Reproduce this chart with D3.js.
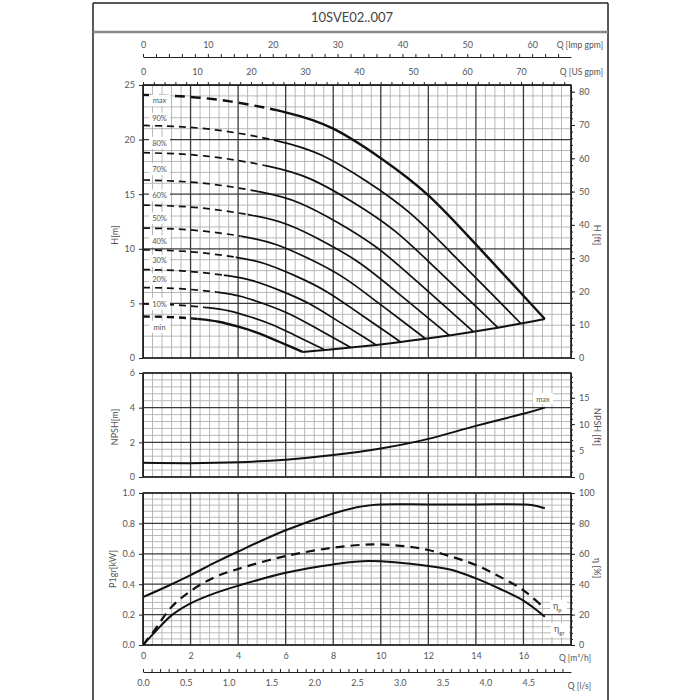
<!DOCTYPE html>
<html>
<head>
<meta charset="utf-8">
<script src="https://cdn.jsdelivr.net/npm/d3@7"></script>
<style>
body { margin: 0; background: #fff; }
text { font-family: Lato, "Open Sans", sans-serif; fill: #555; }
</style>
</head>
<body>
<svg id="chart" width="700" height="700"></svg>
<script>
// ---- data ----
var title = "10SVE02..007";
var speedNames = ["max", "90%", "80%", "70%", "60%", "50%", "40%", "30%", "20%", "10%", "min"];
// Q [m3/h] and H [m] for each speed curve
var speedQ = [
  [0, 3, 6, 8, 10, 12, 14, 16, 16.9],
  [0, 2.82, 5.64, 7.52, 9.4, 11.28, 13.16, 15.04, 15.89],
  [0, 2.65, 5.3, 7.06, 8.83, 10.6, 12.36, 14.13, 14.92],
  [0, 2.47, 4.93, 6.58, 8.22, 9.86, 11.51, 13.15, 13.89],
  [0, 2.29, 4.57, 6.1, 7.62, 9.14, 10.67, 12.19, 12.88],
  [0, 2.11, 4.22, 5.62, 7.03, 8.44, 9.84, 11.25, 11.88],
  [0, 1.92, 3.85, 5.13, 6.41, 7.69, 8.97, 10.26, 10.83],
  [0, 1.74, 3.48, 4.64, 5.8, 6.96, 8.12, 9.28, 9.8],
  [0, 1.55, 3.1, 4.14, 5.17, 6.2, 7.24, 8.27, 8.74],
  [0, 1.36, 2.72, 3.62, 4.53, 5.44, 6.34, 7.25, 7.66],
  [0, 1.19, 2.38, 3.18, 3.97, 4.76, 5.56, 6.35, 6.71]
];
var speedH = [
  [24.1, 23.7, 22.5, 21.0, 18.3, 14.9, 10.4, 5.7, 3.57],
  [21.3, 20.95, 19.89, 18.56, 16.18, 13.17, 9.19, 5.04, 3.16],
  [18.8, 18.49, 17.55, 16.38, 14.27, 11.62, 8.11, 4.45, 2.78],
  [16.3, 16.02, 15.21, 14.2, 12.37, 10.07, 7.03, 3.85, 2.41],
  [14.0, 13.77, 13.07, 12.2, 10.63, 8.66, 6.04, 3.31, 2.07],
  [11.9, 11.71, 11.12, 10.37, 9.04, 7.36, 5.14, 2.82, 1.76],
  [9.9, 9.74, 9.25, 8.63, 7.52, 6.12, 4.27, 2.34, 1.47],
  [8.1, 7.96, 7.56, 7.06, 6.15, 5.01, 3.49, 1.92, 1.2],
  [6.45, 6.35, 6.03, 5.63, 4.9, 3.99, 2.79, 1.53, 0.96],
  [4.95, 4.86, 4.61, 4.31, 3.75, 3.05, 2.13, 1.17, 0.73],
  [3.8, 3.74, 3.56, 3.32, 2.89, 2.35, 1.64, 0.9, 0.56]
];
// flow where each curve turns from dashed to solid
var dashEndQ = [5.6, 5.5, 5.1, 4.8, 4.4, 4.1, 3.9, 3.4, 3.1, 2.6, 2.3];

var npshQ = [0, 2, 4, 6, 8, 10, 12, 14, 16, 16.9];
var npshM = [0.82, 0.8, 0.85, 1.0, 1.27, 1.65, 2.2, 2.95, 3.65, 4.0];

var powerQ = [0, 1, 2, 3, 4, 6, 8, 9, 9.5, 10, 12, 14, 16, 16.4, 16.9];
var powerKW = [0.315, 0.385, 0.46, 0.54, 0.615, 0.755, 0.865, 0.906, 0.918, 0.925, 0.925, 0.925, 0.925, 0.92, 0.9];

var etaPQ = [0, 0.44, 1.2, 2, 3, 4, 6, 8, 9.7, 11, 12, 13, 14, 15, 16, 16.9];
var etaP = [0, 8.8, 25, 35.5, 44.5, 50, 58.5, 64, 66.2, 65, 62.5, 58, 52.6, 45, 36, 24];
var etaGrQ = [0, 0.5, 1.2, 2, 3, 4, 6, 8, 9.5, 12, 13, 14, 15, 16, 16.9];
var etaGr = [0, 8.5, 19.5, 27.4, 34, 39, 47.5, 53, 55.2, 52, 49.3, 43.8, 37, 29.2, 18.6];

var headTicks = [0, 5, 10, 15, 20, 25];
var headFtTicks = [0, 10, 20, 30, 40, 50, 60, 70, 80];
var npshTicks = [0, 2, 4, 6];
var npshFtTicks = [0, 5, 10, 15];
var powerTicks = [0, 0.2, 0.4, 0.6, 0.8, 1.0];
var etaTicks = [0, 20, 40, 60, 80, 100];

// ---- layout ----
var svg = d3.select("#chart");
var left = 143, right = 571;
var x = d3.scaleLinear().domain([0, 18]).range([left, right]);

var yH = d3.scaleLinear().domain([0, 25]).range([358, 85]);
var yHft = d3.scaleLinear().domain([0, 25 / 0.3048]).range([358, 85]);
var yN = d3.scaleLinear().domain([0, 6]).range([477, 373]);
var yNft = d3.scaleLinear().domain([0, 6 / 0.3048]).range([477, 373]);
var yP = d3.scaleLinear().domain([0, 1]).range([645, 493]);
var yEta = d3.scaleLinear().domain([0, 100]).range([645, 493]);

// page frame and title
svg.append("line").attr("x1", 93).attr("x2", 93).attr("y1", 3).attr("y2", 700)
  .attr("stroke", "#222").attr("stroke-width", 1.5);
svg.append("line").attr("x1", 608).attr("x2", 608).attr("y1", 3).attr("y2", 700)
  .attr("stroke", "#222").attr("stroke-width", 1.5);
svg.append("line").attr("x1", 93).attr("x2", 608).attr("y1", 3).attr("y2", 3)
  .attr("stroke", "#222").attr("stroke-width", 1.5);
svg.append("line").attr("x1", 93).attr("x2", 608).attr("y1", 32).attr("y2", 32)
  .attr("stroke", "#888").attr("stroke-width", 2.5);
svg.append("text").attr("x", 352).attr("y", 17).attr("dy", "0.35em")
  .attr("text-anchor", "middle").attr("font-size", 13).style("fill", "#444")
  .text(title);

function isMult(v, m) {
  return Math.abs(v / m - Math.round(v / m)) < 1e-6;
}

function grid(y, step, major) {
  var g = svg.append("g");
  var top = y.range()[1], bottom = y.range()[0];
  var qs = d3.range(0, 18.0001, 0.4);
  var vs = d3.range(y.domain()[0], y.domain()[1] + 1e-6, step);
  g.selectAll(".vmin").data(qs.filter(function(d) { return !isMult(d, 2); }))
    .join("line")
    .attr("x1", function(d) { return x(d); }).attr("x2", function(d) { return x(d); })
    .attr("y1", top).attr("y2", bottom)
    .attr("stroke", "#b0b0b0").attr("stroke-width", 0.9);
  g.selectAll(".hmin").data(vs.filter(function(d) { return !isMult(d, major); }))
    .join("line")
    .attr("x1", left).attr("x2", right)
    .attr("y1", function(d) { return y(d); }).attr("y2", function(d) { return y(d); })
    .attr("stroke", "#b0b0b0").attr("stroke-width", 0.9);
  g.selectAll(".vmaj").data(qs.filter(function(d) { return isMult(d, 2); }))
    .join("line")
    .attr("x1", function(d) { return x(d); }).attr("x2", function(d) { return x(d); })
    .attr("y1", top).attr("y2", bottom)
    .attr("stroke", "#3a3a3a").attr("stroke-width", 1.3);
  g.selectAll(".hmaj").data(vs.filter(function(d) { return isMult(d, major); }))
    .join("line")
    .attr("x1", left).attr("x2", right)
    .attr("y1", function(d) { return y(d); }).attr("y2", function(d) { return y(d); })
    .attr("stroke", "#3a3a3a").attr("stroke-width", 1.3);
  svg.append("rect").attr("x", left).attr("y", top)
    .attr("width", right - left).attr("height", bottom - top)
    .attr("fill", "none").attr("stroke", "#222").attr("stroke-width", 1.3);
}

function styleAxis(g, size) {
  g.select(".domain").attr("stroke", "#222");
  g.selectAll(".tick line").attr("stroke", "#222");
  g.selectAll("text").attr("font-size", size || 9).style("fill", "#555")
    .attr("font-family", "Lato, 'Open Sans', sans-serif");
}

function sideAxes(y, yRight, lTicks, rTicks, rMinor, fmt) {
  var gl = svg.append("g").attr("transform", "translate(" + left + ",0)")
    .call(d3.axisLeft(y).tickValues(lTicks).tickSize(4).tickSizeOuter(0)
      .tickPadding(4).tickFormat(fmt));
  styleAxis(gl);
  var gm = svg.append("g").attr("transform", "translate(" + right + ",0)")
    .call(d3.axisRight(yRight).tickValues(rMinor).tickSize(2).tickSizeOuter(0)
      .tickFormat(""));
  styleAxis(gm);
  var gr = svg.append("g").attr("transform", "translate(" + right + ",0)")
    .call(d3.axisRight(yRight).tickValues(rTicks).tickSize(4).tickSizeOuter(0)
      .tickPadding(4));
  styleAxis(gr);
}

function axisTitle(txt, cx, cy, rot) {
  svg.append("text").attr("transform", "translate(" + cx + "," + cy + ") rotate(" + rot + ")")
    .attr("text-anchor", "middle").attr("dy", "0.35em").attr("font-size", 9)
    .text(txt);
}

var line = d3.line().curve(d3.curveCatmullRom.alpha(0.5));
var smooth = d3.line().curve(d3.curveNatural);
var defs = svg.append("defs");

function clip(id, x0, x1, y0, y1) {
  defs.append("clipPath").attr("id", id).append("rect")
    .attr("x", x0).attr("y", y0).attr("width", x1 - x0).attr("height", y1 - y0);
  return "url(#" + id + ")";
}

// ---- head chart ----
grid(yH, 1, 5);
sideAxes(yH, yHft, headTicks, headFtTicks, d3.range(0, 82, 2), d3.format("d"));
axisTitle("H[m]", 115, 235, -90);
axisTitle("H [ft]", 597, 235, 90);

speedNames.forEach(function(name, i) {
  var pts = speedQ[i].map(function(q, j) { return [x(q), yH(speedH[i][j])]; });
  var xe = x(dashEndQ[i]);
  var w = (i === 0 || i === 10) ? 2.4 : 1.7;
  svg.append("path").attr("d", smooth(pts))
    .attr("clip-path", clip("cd" + i, left, xe, 80, 362))
    .attr("fill", "none").attr("stroke", "#111").attr("stroke-width", w)
    .attr("stroke-dasharray", i === 0 ? "10,6" : "7,5");
  svg.append("path").attr("d", smooth(pts))
    .attr("clip-path", clip("cs" + i, xe, right + 2, 80, 362))
    .attr("fill", "none").attr("stroke", "#111").attr("stroke-width", w);
});

// end-of-curve line
var endPts = speedQ.map(function(qs, i) {
  return [x(qs[qs.length - 1]), yH(speedH[i][speedH[i].length - 1])];
}).sort(function(a, b) { return a[0] - b[0]; });
svg.append("path").attr("d", line(endPts))
  .attr("fill", "none").attr("stroke", "#111").attr("stroke-width", 2);

// speed labels
var labelH = [23.6, 21.9, 19.7, 17.3, 14.9, 12.8, 10.7, 8.9, 7.2, 4.95, 2.85];
speedNames.forEach(function(name, i) {
  var cy = yH(labelH[i]);
  svg.append("rect").attr("x", 149).attr("y", cy - 6).attr("width", 21).attr("height", 12)
    .attr("fill", "#fff");
  svg.append("text").attr("x", 159.5).attr("y", cy).attr("dy", "0.35em")
    .attr("text-anchor", "middle").attr("font-size", 7.5).text(name);
});

// top flow axes
var impX = d3.scaleLinear().domain([0, 18 * 3.6662]).range([left, right]);
var usX = d3.scaleLinear().domain([0, 18 * 4.4029]).range([left, right]);
var gi = svg.append("g").attr("transform", "translate(0,57)")
  .call(d3.axisTop(impX).tickValues(d3.range(0, 66, 2)).tickSize(3).tickSizeOuter(0)
    .tickPadding(6).tickFormat(function(d) { return d % 10 === 0 ? d : ""; }));
styleAxis(gi);
var gu = svg.append("g").attr("transform", "translate(0,85)")
  .call(d3.axisTop(usX).tickValues(d3.range(0, 79, 2)).tickSize(3).tickSizeOuter(0)
    .tickPadding(7).tickFormat(function(d) { return d % 10 === 0 ? d : ""; }));
styleAxis(gu);
svg.append("text").attr("x", 603).attr("y", 45).attr("dy", "0.35em")
  .attr("text-anchor", "end").attr("font-size", 8.5).text("Q [Imp gpm]");
svg.append("text").attr("x", 603).attr("y", 72).attr("dy", "0.35em")
  .attr("text-anchor", "end").attr("font-size", 8.5).text("Q [US gpm]");

// ---- NPSH chart ----
grid(yN, 0.4, 2);
sideAxes(yN, yNft, npshTicks, npshFtTicks, d3.range(0, 20, 1), d3.format("d"));
axisTitle("NPSH[m]", 115, 427, -90);
axisTitle("NPSH [ft]", 597, 427, 90);
svg.append("path")
  .attr("d", smooth(npshQ.map(function(q, j) { return [x(q), yN(npshM[j])]; })))
  .attr("fill", "none").attr("stroke", "#111").attr("stroke-width", 2);
svg.append("rect").attr("x", 533).attr("y", 393).attr("width", 20).attr("height", 11)
  .attr("fill", "#fff");
svg.append("text").attr("x", 543).attr("y", 399).attr("dy", "0.35em")
  .attr("text-anchor", "middle").attr("font-size", 7.5).text("max");

// ---- power / efficiency chart ----
grid(yP, 0.04, 0.2);
sideAxes(yP, yEta, powerTicks, etaTicks, d3.range(0, 101, 4), d3.format(".1f"));
axisTitle("P1gr[kW]", 113, 569, -90);
axisTitle("η [%]", 597, 568, 90);

var cb = clip("cbot", left, right, 490, 648);
svg.append("path")
  .attr("d", line(powerQ.map(function(q, j) { return [x(q), yP(powerKW[j])]; })))
  .attr("clip-path", cb)
  .attr("fill", "none").attr("stroke", "#111").attr("stroke-width", 2);
svg.append("path")
  .attr("d", line(etaPQ.map(function(q, j) { return [x(q), yEta(etaP[j])]; })))
  .attr("clip-path", cb)
  .attr("fill", "none").attr("stroke", "#111").attr("stroke-width", 2.2)
  .attr("stroke-dasharray", "9,6");
svg.append("path")
  .attr("d", line(etaGrQ.map(function(q, j) { return [x(q), yEta(etaGr[j])]; })))
  .attr("clip-path", cb)
  .attr("fill", "none").attr("stroke", "#111").attr("stroke-width", 2);

svg.append("rect").attr("x", 550).attr("y", 600).attr("width", 17).attr("height", 14)
  .attr("fill", "#fff");
var tp = svg.append("text").attr("x", 553).attr("y", 606).attr("dy", "0.35em")
  .attr("font-size", 9).text("η");
tp.append("tspan").attr("font-size", 6).attr("dy", 3).text("p");
svg.append("rect").attr("x", 551).attr("y", 623).attr("width", 18).attr("height", 14)
  .attr("fill", "#fff");
var tg = svg.append("text").attr("x", 554).attr("y", 629).attr("dy", "0.35em")
  .attr("font-size", 9).text("η");
tg.append("tspan").attr("font-size", 6).attr("dy", 3).text("gr");

// bottom flow axes
var gb = svg.append("g").attr("transform", "translate(0,645)")
  .call(d3.axisBottom(x).tickValues(d3.range(0, 17, 2)).tickSize(0).tickSizeOuter(0)
    .tickPadding(8));
styleAxis(gb);
gb.select(".domain").remove();
var lsX = d3.scaleLinear().domain([0, 5]).range([left, right]);
var gl = svg.append("g").attr("transform", "translate(0,672)")
  .call(d3.axisBottom(lsX).tickValues(d3.range(0, 4.95, 0.1)).tickSize(-3).tickSizeOuter(0)
    .tickPadding(8).tickFormat(function(d) {
      return isMult(d, 0.5) ? d3.format(".1f")(d) : "";
    }));
styleAxis(gl);
svg.append("text").attr("x", 591).attr("y", 658).attr("dy", "0.35em")
  .attr("text-anchor", "end").attr("font-size", 8.5).text("Q [m³/h]");
svg.append("text").attr("x", 591).attr("y", 686).attr("dy", "0.35em")
  .attr("text-anchor", "end").attr("font-size", 8.5).text("Q [l/s]");
</script>
</body>
</html>
